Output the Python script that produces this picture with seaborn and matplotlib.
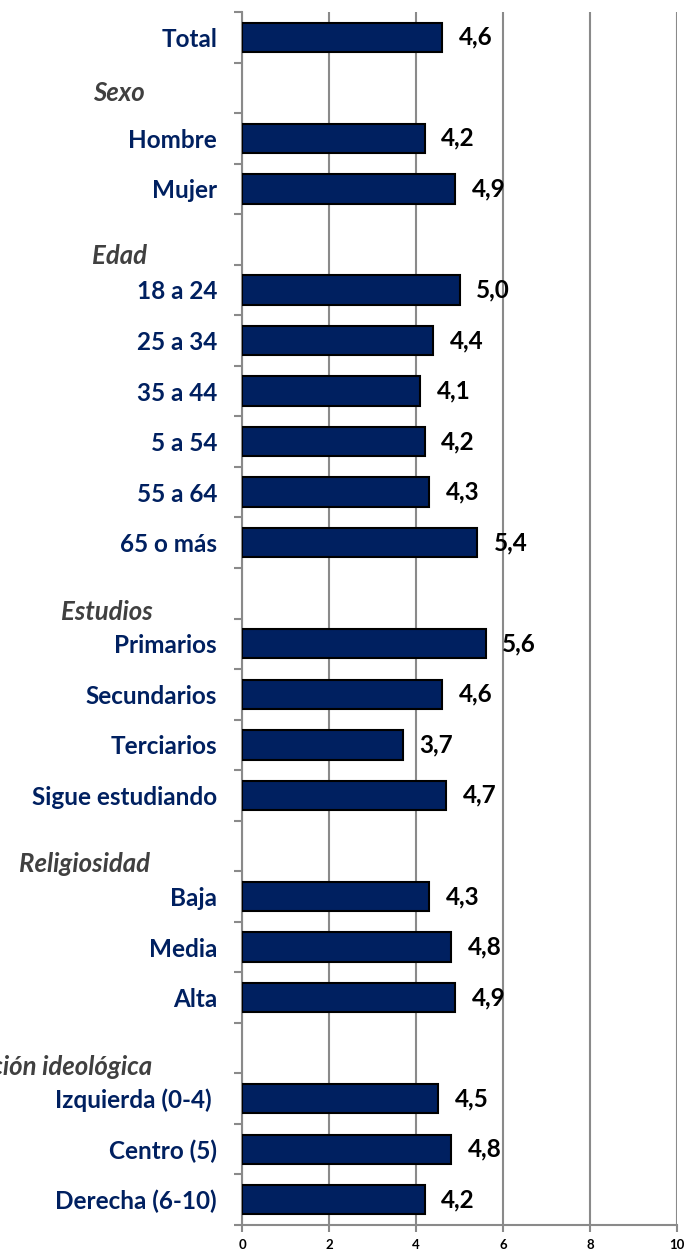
import numpy as np
import pandas as pd
import matplotlib
matplotlib.use("Agg")
import matplotlib.pyplot as plt
import matplotlib.transforms as mtransforms
import seaborn as sns

# rows from top to bottom; None marks a group header row
labels = ["Total", "Sexo", "Hombre", "Mujer", "Edad", "18 a 24", "25 a 34",
          "35 a 44", "5 a 54", "55 a 64", "65 o más", "Estudios", "Primarios",
          "Secundarios", "Terciarios", "Sigue estudiando", "Religiosidad",
          "Baja", "Media", "Alta", "Posición ideológica", "Izquierda (0-4) ",
          "Centro (5)", "Derecha (6-10)"]
values = [4.6, None, 4.2, 4.9, None, 5.0, 4.4, 4.1, 4.2, 4.3, 5.4, None,
          5.6, 4.6, 3.7, 4.7, None, 4.3, 4.8, 4.9, None, 4.5, 4.8, 4.2]
x_ticks = [0, 2, 4, 6, 8, 10]

navy = "#002060"
grey_txt = "#404040"
grid_col = "#8a8a8a"

sns.set_theme(style="white")
plt.rcParams["font.family"] = ["Lato", "DejaVu Sans"]

df = pd.DataFrame({"label": labels, "value": values})
bars = df.dropna()

fig = plt.figure(figsize=(6.86, 12.54), dpi=100)
ax = fig.add_axes([242 / 686, 1 - 1225 / 1254, 435 / 686, 1213 / 1254])

sns.barplot(data=bars, x="value", y="label", order=labels, orient="h",
            color=navy, saturation=1, width=0.58, edgecolor="black",
            linewidth=1.5, ax=ax, zorder=3)

ax.set_xlim(0, 10)
ax.set_ylim(len(labels) - 0.5, -0.5)
ax.set_xticks(x_ticks)
ax.set_xticklabels([str(t) for t in x_ticks], fontsize=9.5, fontweight="bold",
                   color="black")
ax.xaxis.grid(True, color=grid_col, linewidth=1.5, zorder=0)
ax.yaxis.grid(False)
ax.set_xlabel("")
ax.set_ylabel("")

# category labels (headers drawn separately)
ax.set_yticks(range(len(labels)))
ax.set_yticklabels([l if v is not None else "" for l, v in zip(labels, values)],
                   fontsize=17.5, fontweight="bold", color=navy)
ax.tick_params(axis="y", which="major", length=0, pad=18)
ax.set_yticks(np.arange(-0.5, len(labels)), minor=True)
ax.tick_params(axis="y", which="minor", length=6, width=1.5, color=grid_col,
               direction="out", left=True)
ax.tick_params(axis="x", length=5, width=1.5, color=grid_col, direction="out",
               bottom=True, pad=5)

for side in ["top", "right"]:
    ax.spines[side].set_visible(False)
for side in ["left", "bottom"]:
    ax.spines[side].set_color(grid_col)
    ax.spines[side].set_linewidth(1.5)

# value labels
vals = bars["value"].tolist()
ax.bar_label(ax.containers[0], labels=[f"{v:.1f}".replace(".", ",") for v in vals],
             padding=12, fontsize=17.5, fontweight="bold", color="black")

# group headers (right edge in pixels, drop below row centre)
header_pos = {"Sexo": (145, 0.1), "Edad": (147, 0.33), "Estudios": (153, 0.37),
              "Religiosidad": (150, 0.35), "Posición ideológica": (152, 0.38)}
trans = mtransforms.blended_transform_factory(fig.transFigure, ax.transData)
for name, (xr, dy) in header_pos.items():
    i = labels.index(name)
    ax.text(xr / 686, i + dy, name, transform=trans,
            ha="right", va="center", fontsize=18.5, fontweight="bold",
            fontstyle="italic", color=grey_txt, clip_on=False)

fig.savefig("out.png", dpi=100)
